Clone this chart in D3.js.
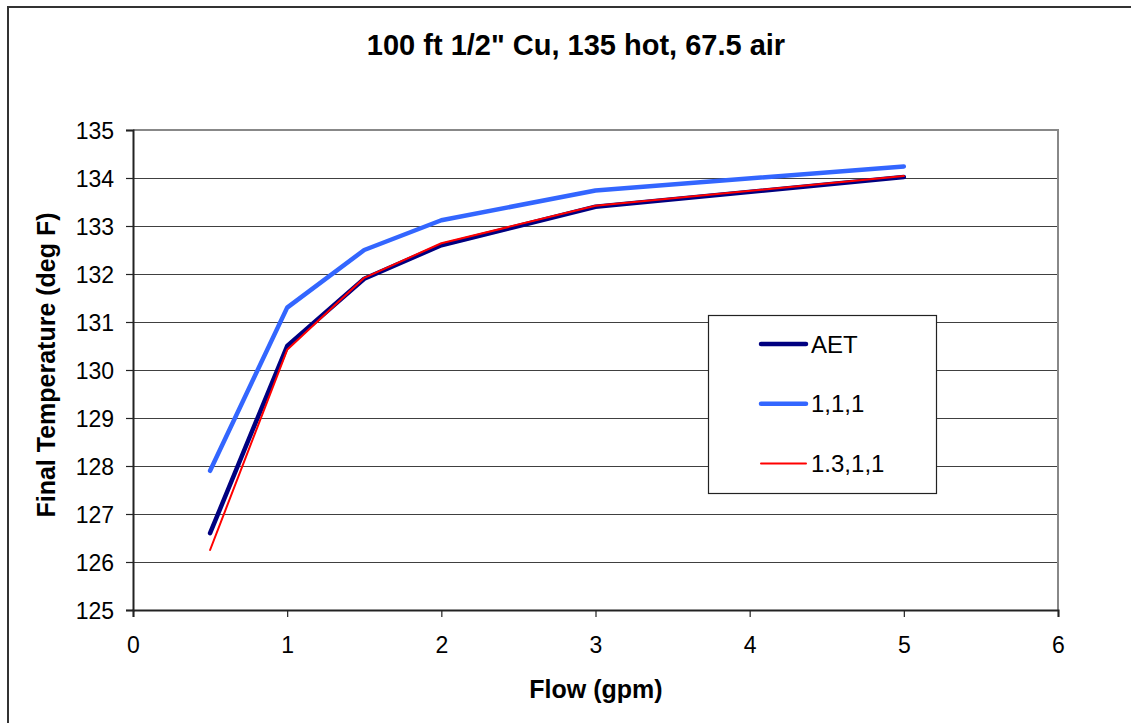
<!DOCTYPE html>
<html>
<head>
<meta charset="utf-8">
<script src="https://cdn.jsdelivr.net/npm/d3@7"></script>
<style>
  html, body { margin: 0; padding: 0; background: #fff; }
  svg { display: block; }
  text { font-family: "Liberation Sans", Arial, sans-serif; fill: #000; }
</style>
</head>
<body>
<svg id="chart" width="1131" height="723"></svg>
<script>
// Flow rates (gpm)
const flow = [0.5, 1, 1.5, 2, 3, 5];
// Final temperature (deg F) for each model
const aet       = [126.6, 130.5, 131.9, 132.6, 133.4, 134.02];
const oneOne    = [127.9, 131.3, 132.5, 133.12, 133.74, 134.24];
const onePoint3 = [126.25, 130.42, 131.92, 132.64, 133.42, 134.04];

const seriesNames = ["AET", "1,1,1", "1.3,1,1"];
const xTicks = [0, 1, 2, 3, 4, 5, 6];
const yTicks = [125, 126, 127, 128, 129, 130, 131, 132, 133, 134, 135];

const series = [
  { name: seriesNames[0], values: aet,       color: "#000080", width: 4.5 },
  { name: seriesNames[1], values: oneOne,    color: "#3366FF", width: 4.5 },
  { name: seriesNames[2], values: onePoint3, color: "#FF0000", width: 2 }
];

const svg = d3.select("#chart");

// Outer chart frame
svg.append("path")
  .attr("d", "M8,730 L8,7 L1140,7")
  .attr("fill", "none")
  .attr("stroke", "#333")
  .attr("stroke-width", 2);

const plot = { left: 133, top: 130, right: 1058, bottom: 610 };

const x = d3.scaleLinear().domain([0, 6]).range([plot.left, plot.right]);
const y = d3.scaleLinear().domain([125, 135]).range([plot.bottom, plot.top]);

// Horizontal gridlines
svg.append("g")
  .selectAll("line")
  .data(yTicks.filter(t => t > 125 && t < 135))
  .join("line")
  .attr("x1", plot.left).attr("x2", plot.right)
  .attr("y1", d => Math.round(y(d)) + 0.5).attr("y2", d => Math.round(y(d)) + 0.5)
  .attr("stroke", "#404040").attr("stroke-width", 1.2);

// Plot area border (top and right)
svg.append("path")
  .attr("d", `M${plot.left},${plot.top} L${plot.right},${plot.top} L${plot.right},${plot.bottom}`)
  .attr("fill", "none")
  .attr("stroke", "#888").attr("stroke-width", 2);

// Axes
const xAxis = svg.append("g")
  .attr("transform", `translate(0,${plot.bottom})`)
  .call(d3.axisBottom(x).tickValues(xTicks).tickFormat(d3.format("d")).tickSize(7).tickPadding(20));
const yAxis = svg.append("g")
  .attr("transform", `translate(${plot.left},0)`)
  .call(d3.axisLeft(y).tickValues(yTicks).tickFormat(d3.format("d")).tickSize(7).tickPadding(12));

[xAxis, yAxis].forEach(ax => {
  ax.select(".domain").attr("stroke", "#222").attr("stroke-width", 2);
  ax.selectAll(".tick line").attr("stroke", "#222").attr("stroke-width", 1.2);
  ax.selectAll(".tick text")
    .attr("font-family", "Liberation Sans, Arial, sans-serif")
    .attr("font-size", 23).attr("fill", "#000");
});
yAxis.selectAll(".tick text").attr("dy", "0.35em");

// Series lines
const line = d3.line()
  .x((d, i) => x(flow[i]))
  .y(d => y(d));

svg.append("g")
  .selectAll("path")
  .data(series)
  .join("path")
  .attr("d", s => line(s.values))
  .attr("fill", "none")
  .attr("stroke", s => s.color)
  .attr("stroke-width", s => s.width)
  .attr("stroke-linecap", "round")
  .attr("stroke-linejoin", "round");

// Title
svg.append("text")
  .attr("x", 576).attr("y", 55)
  .attr("text-anchor", "middle")
  .attr("font-size", 29).attr("font-weight", "bold")
  .text('100 ft 1/2" Cu, 135 hot, 67.5 air');

// Axis titles
svg.append("text")
  .attr("x", 596).attr("y", 698)
  .attr("text-anchor", "middle")
  .attr("font-size", 25).attr("font-weight", "bold")
  .text("Flow (gpm)");

svg.append("text")
  .attr("transform", `translate(55,${(plot.top + plot.bottom) / 2 - 5}) rotate(-90)`)
  .attr("text-anchor", "middle")
  .attr("font-size", 25).attr("font-weight", "bold")
  .text("Final Temperature (deg F)");

// Legend
const legend = svg.append("g");
legend.append("rect")
  .attr("x", 708.5).attr("y", 315.5).attr("width", 228).attr("height", 178)
  .attr("fill", "#fff").attr("stroke", "#222").attr("stroke-width", 1.2);

const legendRows = legend.selectAll("g.row")
  .data(series)
  .join("g")
  .attr("class", "row")
  .attr("transform", (d, i) => `translate(0,${344 + i * 59.7})`);

legendRows.append("line")
  .attr("x1", 761).attr("x2", 806)
  .attr("stroke", d => d.color)
  .attr("stroke-width", d => d.width)
  .attr("stroke-linecap", "round");

legendRows.append("text")
  .attr("x", 811).attr("y", 0).attr("dy", "0.36em")
  .attr("font-size", 24)
  .text(d => d.name);
</script>
</body>
</html>
